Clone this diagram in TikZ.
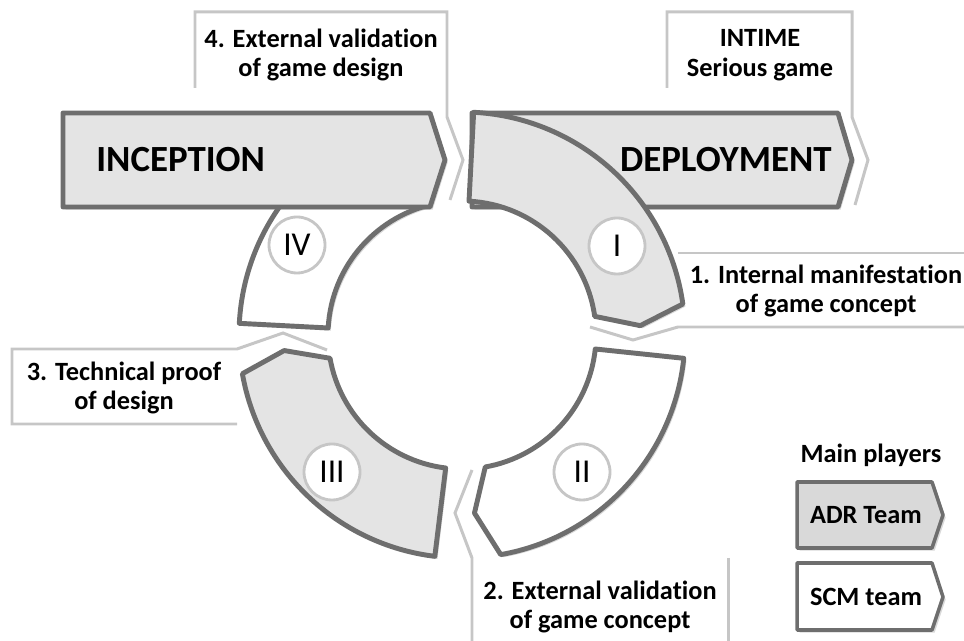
\documentclass[tikz,border=0pt]{standalone}
\usepackage{fontspec}
\setmainfont[Ligatures=NoCommon]{Carlito}
\usetikzlibrary{calc,shadows}
\definecolor{rimgray}{HTML}{6E6E6E}
\definecolor{adrfill}{HTML}{E4E4E4}
\definecolor{framegray}{HTML}{C6C6C6}
\tikzset{
  frame/.style={draw=framegray,line width=1.7pt},
  rim/.style={draw=rimgray,line width=2.8pt,line join=round,
    drop shadow={shadow xshift=1.5pt,shadow yshift=-1.5pt,opacity=0.3}},
  adr/.style={rim,fill=adrfill},
  scm/.style={rim,fill=white},
  roman/.style={circle,draw=framegray,line width=1.6pt,fill=white,
    minimum size=1.12cm,inner sep=0pt,font=\fontsize{19}{20}\selectfont},
  lbl/.style={align=center,inner sep=0pt,font=\bfseries\fontsize{15}{17}\selectfont},
  big/.style={inner sep=0pt,font=\bfseries\fontsize{21}{24}\selectfont}
}
\begin{document}
\begin{tikzpicture}[x=0.02cm,y=-0.02cm]
\useasboundingbox (0,0) rectangle (964,641);
\coordinate (C) at (462,335);

% callout frames
\draw[frame] (195,88) -- (195,12) -- (447,12) -- (447,117) -- (463,160) -- (450,200);
\draw[frame] (667,88) -- (667,12) -- (852,12) -- (852,117) -- (868,160) -- (855,205);
\draw[frame] (678,253) -- (970,253);
\draw[frame] (590,327) -- (633,340) -- (678,327) -- (970,327);
\draw[frame] (472,470) -- (455,513) -- (472,558) -- (472,645);
\draw[frame] (728,558) -- (728,645);
\draw[frame] (327,350) -- (283,333) -- (237,349) -- (12,349) -- (12,424) -- (237,424);

% ring
\draw[scm] ($(C)+(6:223)$) arc[start angle=6,end angle=80,radius=223]
  -- ($(C)+(86:178.5)$) -- ($(C)+(80:134)$) arc[start angle=80,end angle=6,radius=134] -- cycle;
\draw[adr] ($(C)+(97:223)$) arc[start angle=97,end angle=170,radius=223]
  -- ($(C)+(175:178.5)$) -- ($(C)+(170:134)$) arc[start angle=170,end angle=97,radius=134] -- cycle;
\begin{scope}
\clip (0,0) rectangle (428,641);
\draw[scm] ($(C)+(-177:223)$) arc[start angle=-177,end angle=-100,radius=223]
  -- ($(C)+(-95:178.5)$) -- ($(C)+(-100:134)$) arc[start angle=-100,end angle=-177,radius=134] -- cycle;
\end{scope}

% phases
\draw[adr] (63,113) -- (430,113) -- (445,160) -- (430,207) -- (63,207) -- cycle;
\draw[adr] (472,113) -- (838,113) -- (852,160) -- (838,207) -- (472,207) -- cycle;
\draw[adr] ($(C)+(-87:223)$) arc[start angle=-87,end angle=-8,radius=223]
  -- ($(C)+(-3:178.5)$) -- ($(C)+(-8:134)$) arc[start angle=-8,end angle=-87,radius=134] -- cycle;

\foreach \n/\x/\y in {I/617/246,II/582/472,III/332/472,IV/297/245}
  \node[roman] (r\n) at (\x,\y) {\n};

\node[big,anchor=west] (inception) at (96,160) {INCEPTION};
\node[big,anchor=east] (deployment) at (832,160) {DEPLOYMENT};

\node[lbl] (step4) at (321,55) {4. External validation\\of game design};
\node[lbl] (intime) at (760,55) {INTIME\\Serious game};
\node[lbl] (step1) at (826,291) {1. Internal manifestation\\of game concept};
\node[lbl] (step2) at (600,607) {2. External validation\\of game concept};
\node[lbl] (step3) at (124,388) {3. Technical proof\\of design};

% legend
\node[lbl] (players) at (871,455) {Main players};
\draw[rim,fill=adrfill!95!black,line width=2pt] (797,482) -- (932,482) -- (943,515) -- (932,548) -- (797,548) -- cycle;
\draw[rim,fill=white,line width=2pt] (797,563) -- (932,563) -- (943,597) -- (932,630) -- (797,630) -- cycle;
\node[lbl] (adrteam) at (866,515) {ADR Team};
\node[lbl] (scmteam) at (866,597) {SCM team};
\end{tikzpicture}
\end{document}
